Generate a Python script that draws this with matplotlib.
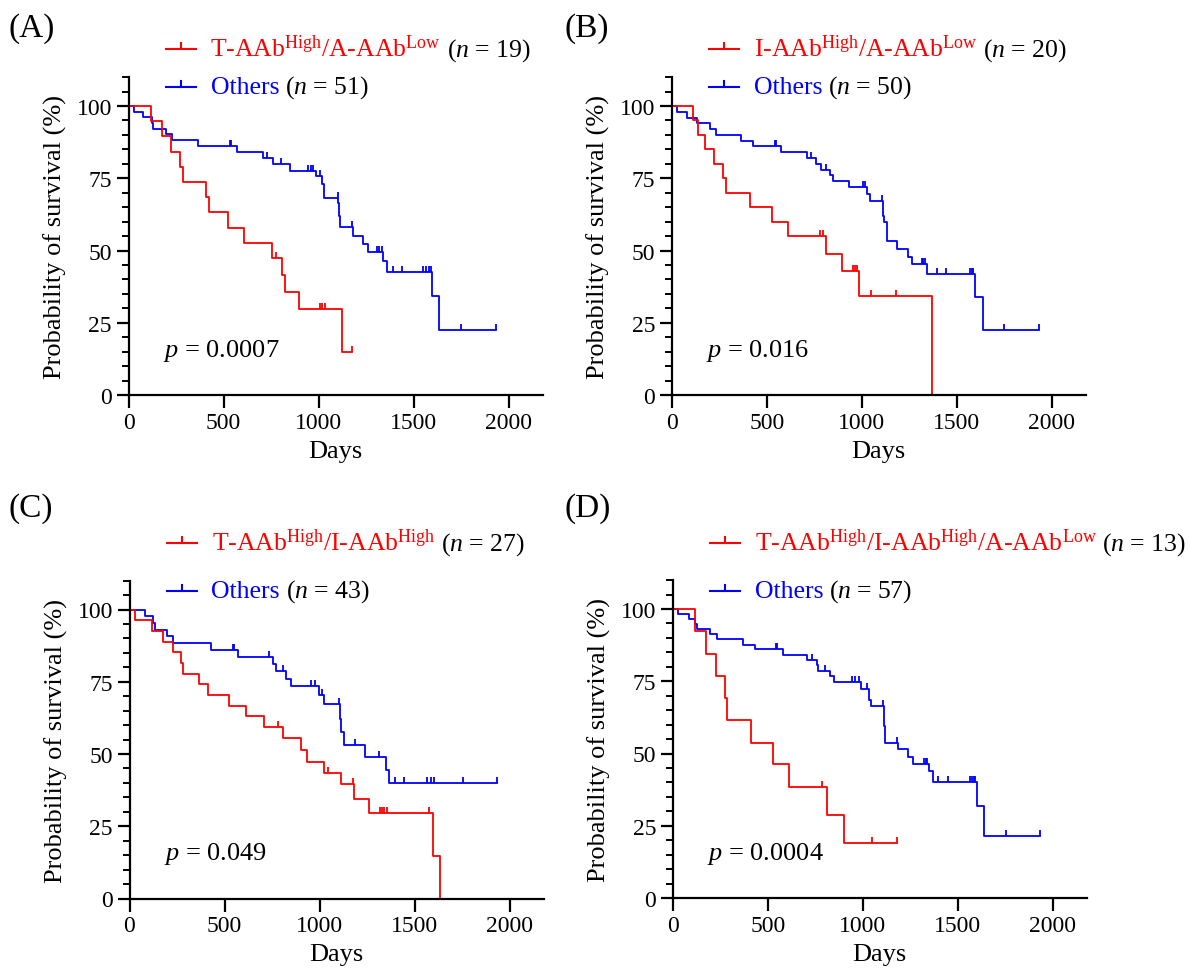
import numpy as np
import matplotlib
matplotlib.use('Agg')
import matplotlib.pyplot as plt
from matplotlib.lines import Line2D
from matplotlib.offsetbox import TextArea, HPacker, AnchoredOffsetbox

# Kaplan-Meier curves: step times (days), survival (%) after
# each step, and censoring times (tick marks)

# (A) T-AAb High / A-AAb Low vs others
a_red_t = [117, 175, 222, 271, 285, 408, 422, 525, 610, 757, 810, 822, 897, 1125]
a_red_s = [94.7, 89.5, 84.2, 78.9, 73.7, 68.4, 63.2, 57.9, 52.6, 47.4, 41.4, 35.5, 29.6, 14.8]
a_red_c = [776, 1008, 1020, 1034, 1178]
a_blue_t = [31, 78, 122, 131, 196, 231, 364, 569, 706, 759, 850, 987, 1017, 1029, 1104, 1108,
            1112, 1182, 1236, 1262, 1341, 1359, 1596, 1636]
a_blue_s = [98.0, 96.1, 94.1, 92.2, 90.2, 88.2, 86.1, 84.0, 82.0, 79.9, 77.6, 75.7, 73.0, 68.1,
            66.4, 62.0, 58.0, 55.1, 52.2, 49.4, 46.5, 42.5, 34.4, 22.6]
a_blue_c = [534, 540, 727, 803, 943, 960, 973, 1008, 1100, 1176, 1306, 1318, 1332, 1390, 1441,
            1552, 1566, 1580, 1590, 1748, 1932]

# (B) I-AAb High / A-AAb Low vs others
b_red_t = [114, 140, 175, 224, 272, 284, 412, 526, 614, 810, 898, 988, 1368]
b_red_s = [95, 90, 85, 80, 75, 70, 65, 60, 55, 48.9, 42.8, 34.2, 0]
b_red_c = [781, 798, 956, 966, 974, 1047, 1179]
b_blue_t = [26, 79, 132, 202, 233, 365, 430, 574, 711, 758, 785, 833, 851, 935, 1030, 1044,
            1110, 1118, 1132, 1184, 1245, 1263, 1342, 1596, 1637]
b_blue_s = [98, 96, 94, 92, 90, 88, 86, 84, 82, 80, 78, 76, 74, 72, 69.5, 67, 62, 59.8, 53.4,
            50.6, 47.6, 45.3, 41.9, 33.8, 22.6]
b_blue_c = [544, 550, 733, 810, 1005, 1015, 1105, 1316, 1325, 1333, 1395, 1444, 1570, 1578,
            1587, 1751, 1933]

# (C) T-AAb High / I-AAb High vs others
c_red_t = [29, 117, 175, 227, 271, 280, 367, 412, 525, 613, 709, 809, 903, 933, 1025, 1112,
           1180, 1262, 1599, 1634]
c_red_s = [96.3, 92.6, 88.9, 85.2, 81.5, 77.8, 74.1, 70.4, 66.7, 63.0, 59.3, 55.4, 51.4, 47.4,
           43.5, 39.5, 34.5, 29.7, 14.8, 0]
c_red_c = [783, 1047, 1176, 1321, 1330, 1340, 1354, 1576]
c_blue_t = [82, 122, 134, 196, 231, 429, 573, 757, 770, 822, 850, 997, 1025, 1108, 1114, 1129,
            1239, 1348, 1367]
c_blue_s = [97.7, 95.3, 93.0, 90.7, 88.4, 86.0, 83.6, 81.1, 78.6, 76.0, 73.4, 70.5, 67.4, 62.2,
            57.6, 53.0, 49.0, 44.4, 40.1]
c_blue_c = [543, 549, 734, 806, 954, 976, 1014, 1104, 1187, 1315, 1397, 1446, 1564, 1585, 1603,
            1754, 1936]

# (D) T-AAb High / I-AAb High / A-AAb Low vs others
d_red_t = [117, 175, 228, 275, 285, 412, 530, 614, 811, 899]
d_red_s = [92.3, 84.6, 76.9, 69.2, 61.5, 53.8, 46.2, 38.5, 28.8, 19.2]
d_red_c = [784, 1051, 1183]
d_blue_t = [30, 87, 117, 126, 196, 235, 368, 433, 579, 705, 758, 767, 826, 849, 991, 1033, 1042,
            1112, 1117, 1185, 1240, 1267, 1350, 1368, 1600, 1640]
d_blue_s = [98.2, 96.5, 94.7, 93.0, 91.2, 89.5, 87.7, 86.0, 84.2, 82.4, 80.6, 78.7, 76.8, 74.9,
            72.3, 68.4, 66.3, 59.6, 53.8, 51.5, 48.7, 46.4, 44.1, 40.0, 31.9, 21.3]
d_blue_c = [544, 550, 735, 803, 942, 959, 981, 1021, 1105, 1178, 1322, 1331, 1340, 1398, 1447,
            1565, 1575, 1585, 1591, 1753, 1933]

panel_letters = ['(A)', '(B)', '(C)', '(D)']
red_labels = [r'T-AAb$^{\mathrm{High}}$/A-AAb$^{\mathrm{Low}}$',
              r'I-AAb$^{\mathrm{High}}$/A-AAb$^{\mathrm{Low}}$',
              r'T-AAb$^{\mathrm{High}}$/I-AAb$^{\mathrm{High}}$',
              r'T-AAb$^{\mathrm{High}}$/I-AAb$^{\mathrm{High}}$/A-AAb$^{\mathrm{Low}}$']
red_n = [19, 20, 27, 13]
blue_n = [51, 50, 43, 57]
p_values = ['0.0007', '0.016', '0.049', '0.0004']

plt.rcParams['font.family'] = 'Liberation Serif'
plt.rcParams['mathtext.fontset'] = 'custom'
plt.rcParams['mathtext.rm'] = 'Liberation Serif'
plt.rcParams['mathtext.it'] = 'Liberation Serif:italic'
plt.rcParams['mathtext.bf'] = 'Liberation Serif:bold'

RED = '#ff0000'
BLUE = '#0000ff'
W, H = 1190, 978
TICK = [(0, 0), (0, 1)]

fig = plt.figure(figsize=(W / 100, H / 100), dpi=100)


def fx(px):
    return px / W


def fy(py):
    return 1 - py / H


def km(ax, t, s, c, color):
    tt = np.r_[0, t]
    ss = np.r_[100, s]
    end = max(tt[-1], max(c))
    if ss[-1] > 0 and end > tt[-1]:
        tt = np.r_[tt, end]
        ss = np.r_[ss, ss[-1]]
    ax.step(tt, ss, where='post', color=color, lw=1.3)
    idx = np.searchsorted(tt, c, side='right') - 1
    ax.plot(c, ss[idx], ls='none', marker=TICK, ms=9, mec=color, mew=1.3)


def legend_row(x_line, y, label, n, color):
    fig.add_artist(Line2D([fx(x_line), fx(x_line + 30)], [fy(y), fy(y)], color=color, lw=1.5))
    fig.add_artist(Line2D([fx(x_line + 15)] * 2, [fy(y), fy(y - 6)], color=color, lw=1.5))
    t1 = TextArea(label, textprops=dict(color=color, fontsize=18.5))
    t2 = TextArea(r'($\mathit{n}$ = %d)' % n, textprops=dict(color='black', fontsize=18.5))
    box = HPacker(children=[t1, t2], align='baseline', pad=0, sep=4)
    anc = AnchoredOffsetbox(loc='center left', child=box, pad=0, borderpad=0, frameon=False,
                            bbox_to_anchor=(fx(x_line + 45), fy(y)),
                            bbox_transform=fig.transFigure)
    fig.add_artist(anc)


curves = [(a_red_t, a_red_s, a_red_c, a_blue_t, a_blue_s, a_blue_c),
          (b_red_t, b_red_s, b_red_c, b_blue_t, b_blue_s, b_blue_c),
          (c_red_t, c_red_s, c_red_c, c_blue_t, c_blue_s, c_blue_c),
          (d_red_t, d_red_s, d_red_c, d_blue_t, d_blue_s, d_blue_c)]

# panel layout in pixels: x of day 0, y of 0 %
origins = [(128.5, 396), (671.7, 396), (129.5, 899.5), (672.7, 899)]
# pixel rows of panel letter, red legend row, blue legend row
label_rows = [(29, 50, 88), (29, 50, 88), (509, 544, 592), (509, 544, 592)]
letter_x = [8, 564, 8, 564]
px_per_day = 0.19
px_per_pct = 2.89
xmax, ymax = 2180, 110

for i, (x0, y0) in enumerate(origins):
    ax = fig.add_axes([fx(x0), fy(y0), xmax * px_per_day / W, ymax * px_per_pct / H])
    rt, rs, rc, bt, bs, bc = curves[i]
    km(ax, bt, bs, bc, BLUE)
    km(ax, rt, rs, rc, RED)

    ax.set_xlim(0, xmax)
    ax.set_ylim(0, ymax)
    for side in ['top', 'right']:
        ax.spines[side].set_visible(False)
    for side in ['left', 'bottom']:
        ax.spines[side].set_linewidth(1.6)
    ax.set_xticks([0, 500, 1000, 1500, 2000])
    ax.set_yticks([0, 25, 50, 75, 100])
    ax.set_yticks(np.arange(0, 111, 5), minor=True)
    ax.tick_params(which='major', direction='out', length=9, width=1.6, labelsize=17, pad=3)
    ax.tick_params(axis='y', which='minor', length=5, width=1.4)
    ax.tick_params(axis='x', which='minor', bottom=False)
    ax.set_xlabel('Days', fontsize=19, labelpad=5)
    ax.set_ylabel('Probability of survival (%)', fontsize=19, labelpad=7)
    ax.text(180, 13.5, r'$p$ = ' + p_values[i], fontsize=19, va='baseline')

    ly, ry, by = label_rows[i]
    fig.text(fx(letter_x[i]), fy(ly), panel_letters[i], fontsize=24, va='center', ha='left')
    legend_row(x0 + 37, ry, red_labels[i], red_n[i], RED)
    legend_row(x0 + 37, by, 'Others', blue_n[i], BLUE)

fig.savefig('out.png', dpi=100)
